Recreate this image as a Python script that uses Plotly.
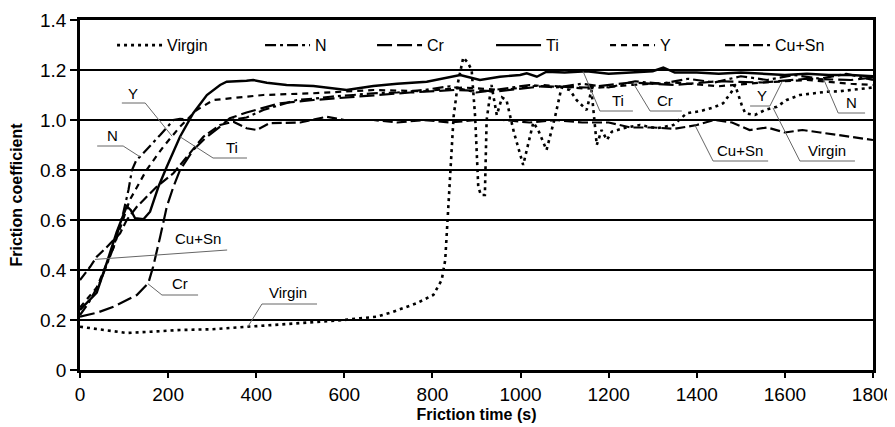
import numpy as np
import plotly.graph_objects as go

# ---------------- data ----------------
virgin_t = [0, 50, 106, 160, 227, 300, 378, 450, 530, 600, 636, 673, 711, 764, 802,
            821, 829, 834, 840, 848, 858, 870, 880, 889, 897, 904, 910, 919, 923, 934,
            946, 958, 968, 985, 1006, 1020, 1029, 1040, 1059, 1078, 1093, 1112, 1127, 1150, 1161,
            1173, 1184, 1196, 1207, 1233, 1271, 1309, 1347, 1377, 1407, 1438, 1460, 1479, 1487, 1502,
            1510, 1532, 1555, 1582, 1604, 1634, 1665, 1695, 1725, 1755, 1786, 1800]
virgin_f = [0.173, 0.16, 0.148, 0.153, 0.16, 0.163, 0.173, 0.18, 0.193, 0.2, 0.207, 0.213, 0.233, 0.267, 0.30,
            0.36, 0.44, 0.587, 0.733, 1.013, 1.15, 1.25, 1.23, 1.2, 1.01, 0.733, 0.70, 0.70, 1.0, 1.14,
            1.02, 1.09, 1.08, 0.95, 0.82, 0.92, 0.99, 0.96, 0.88, 1.01, 1.13, 1.12, 1.08, 1.04, 1.12,
            0.9, 0.96, 0.92, 0.953, 0.967, 0.98, 0.967, 0.98, 1.027, 1.035, 1.05, 1.067, 1.113, 1.14, 1.06,
            1.027, 1.02, 1.04, 1.053, 1.08, 1.1, 1.107, 1.113, 1.115, 1.12, 1.127, 1.13]

n_t = [0, 20, 45, 76, 98, 110, 118, 128, 136, 151, 182, 212, 227, 260, 300,
       340, 378, 416, 454, 492, 530, 568, 620, 666, 720, 780, 840, 900, 960, 1020,
       1080, 1140, 1200, 1260, 1320, 1380, 1440, 1500, 1560, 1620, 1680, 1740, 1800]
n_f = [0.22, 0.27, 0.35, 0.49, 0.627, 0.72, 0.8, 0.84, 0.853, 0.88, 0.94, 1.0, 1.005, 1.0, 1.0,
       1.0, 1.01, 1.04, 1.06, 1.08, 1.085, 1.093, 1.1, 1.107, 1.11, 1.12, 1.135, 1.11, 1.125, 1.14,
       1.13, 1.145, 1.13, 1.155, 1.145, 1.165, 1.15, 1.175, 1.16, 1.18, 1.165, 1.185, 1.16]

cr_t = [0, 40, 76, 129, 155, 166, 182, 197, 212, 227, 257, 288, 318, 340, 378,
        454, 530, 600, 666, 750, 850, 950, 1050, 1150, 1250, 1350, 1450, 1550, 1650, 1750, 1800]
cr_f = [0.213, 0.23, 0.253, 0.30, 0.347, 0.413, 0.533, 0.653, 0.733, 0.8, 0.88, 0.933, 0.973, 1.007, 1.03,
        1.067, 1.08, 1.09, 1.1, 1.11, 1.12, 1.115, 1.135, 1.13, 1.15, 1.14, 1.155, 1.15, 1.165, 1.16, 1.17]

ti_t = [0, 38, 61, 83, 106, 115, 125, 144, 159, 178, 197, 227, 257, 288, 318,
        333, 378, 393, 424, 469, 530, 605, 666, 720, 787, 863, 908, 953, 999, 1014,
        1037, 1059, 1100, 1150, 1200, 1250, 1300, 1324, 1350, 1400, 1450, 1500, 1550, 1600, 1650,
        1700, 1750, 1800]
ti_f = [0.24, 0.31, 0.43, 0.55, 0.655, 0.64, 0.607, 0.603, 0.633, 0.733, 0.813, 0.933, 1.027, 1.1, 1.14,
        1.153, 1.157, 1.16, 1.149, 1.14, 1.136, 1.12, 1.136, 1.145, 1.153, 1.18, 1.16, 1.173, 1.18, 1.187,
        1.173, 1.193, 1.19, 1.195, 1.185, 1.19, 1.195, 1.21, 1.19, 1.19, 1.185, 1.19, 1.185, 1.18, 1.185,
        1.18, 1.18, 1.175]

y_t = [0, 38, 76, 113, 151, 189, 227, 265, 303, 341, 416, 530, 666, 780, 870,
       960, 1050, 1150, 1250, 1350, 1450, 1550, 1650, 1750, 1800]
y_f = [0.25, 0.33, 0.49, 0.68, 0.8, 0.893, 0.973, 1.04, 1.08, 1.087, 1.1, 1.107, 1.12, 1.115, 1.13,
       1.12, 1.14, 1.125, 1.14, 1.15, 1.135, 1.15, 1.16, 1.145, 1.14]

cusn_t = [0, 23, 38, 60, 91, 106, 129, 150, 174, 212, 242, 280, 318, 348, 378,
          401, 430, 500, 560, 600, 666, 720, 780, 840, 900, 960, 1020, 1080, 1140, 1200,
          1250, 1300, 1350, 1400, 1440, 1480, 1520, 1560, 1600, 1640, 1680, 1720, 1760, 1800]
cusn_f = [0.36, 0.413, 0.453, 0.49, 0.547, 0.6, 0.653, 0.69, 0.733, 0.787, 0.853, 0.933, 0.98, 0.993, 0.967,
          0.96, 0.987, 0.99, 1.013, 1.0, 1.0, 0.99, 1.0, 0.99, 1.0, 1.0, 0.99, 1.0, 0.99, 0.99,
          0.97, 0.97, 0.965, 0.98, 1.0, 0.99, 0.96, 0.97, 0.95, 0.96, 0.95, 0.94, 0.93, 0.92]

x_ticks = [0, 200, 400, 600, 800, 1000, 1200, 1400, 1600, 1800]
y_ticks = [0, 0.2, 0.4, 0.6, 0.8, 1.0, 1.2, 1.4]
y_tick_text = ["0", "0.2", "0.4", "0.6", "0.8", "1.0", "1.2", "1.4"]

# in-plot labels: text, series pointed at, time on the curve, text position, underline
label_text = ["Y", "N", "Ti", "Cu+Sn", "Cr", "Virgin", "Ti", "Cr", "Y", "N", "Cu+Sn", "Virgin"]
label_target_t = [209, 136, 227, 34, 154, 381, 1142, 1255, 1594, 1687, 1396, 1573]
label_text_t = [120, 73, 345, 268, 227, 472, 1221, 1328, 1548, 1752, 1498, 1696]
label_text_f = [1.108, 0.94, 0.892, 0.528, 0.348, 0.312, 1.08, 1.08, 1.1, 1.072, 0.88, 0.88]
label_u0 = [95, 39, 302, 334, 186, 413, 1180, 1294, 1521, 1721, 1437, 1634]
label_u1 = [148, 98, 379, 334, 268, 538, 1255, 1366, 1566, 1782, 1562, 1759]
label_uf = [1.068, 0.896, 0.848, 0.48, 0.30, 0.264, 1.036, 1.036, 1.056, 1.028, 0.836, 0.836]
label_from = [148, 98, 302, 334, 186, 413, 1180, 1294, 1566, 1721, 1437, 1634]

# ---------------- styling ----------------
FONT = "Liberation Sans, Arial, sans-serif"
series = {
    "Virgin": (virgin_t, virgin_f, dict(dash="3px,4px", width=2.6), 88),
    "N": (n_t, n_f, dict(dash="11px,4px,3px,4px", width=2.2), 52),
    "Cr": (cr_t, cr_f, dict(dash="15px,5px", width=2.2), 59),
    "Ti": (ti_t, ti_f, dict(dash="solid", width=2.4), 54),
    "Y": (y_t, y_f, dict(dash="6px,5px", width=2.2), 55),
    "Cu+Sn": (cusn_t, cusn_f, dict(dash="10px,4px", width=2.2), 70),
}

fig = go.Figure()
for name, (tt, ff, ln, lw) in series.items():
    fig.add_trace(go.Scatter(x=tt, y=ff, mode="lines", name=name,
                             line=dict(color="black", **ln), legendwidth=lw))

shapes = []
annotations = []
for i, txt in enumerate(label_text):
    tt, ff, _, _ = series[txt]
    target_f = float(np.interp(label_target_t[i], tt, ff))
    shapes.append(dict(type="line", xref="x", yref="y", x0=label_u0[i], x1=label_u1[i],
                       y0=label_uf[i], y1=label_uf[i], line=dict(color="#666", width=1)))
    shapes.append(dict(type="line", xref="x", yref="y", x0=label_from[i], y0=label_uf[i],
                       x1=label_target_t[i], y1=target_f, line=dict(color="#666", width=1)))
    annotations.append(dict(x=label_text_t[i], y=label_text_f[i], xref="x", yref="y", text=txt,
                            showarrow=False, font=dict(size=15, color="black", family=FONT)))

# the page body adds an 8px offset, so the figure is sized to the visible area
fig.update_layout(
    width=887, height=419,
    margin=dict(l=72, r=22, t=12, b=57, autoexpand=False),
    paper_bgcolor="white", plot_bgcolor="white",
    font=dict(family=FONT, color="black", size=16),
    shapes=shapes, annotations=annotations,
    showlegend=True,
    legend=dict(orientation="h", x=0.0404, y=0.928, xanchor="left", yanchor="middle",
                bgcolor="rgba(0,0,0,0)", itemwidth=45, font=dict(size=16, family=FONT),
                traceorder="normal"),
)
fig.update_xaxes(range=[0, 1800], tickvals=x_ticks, ticks="outside", ticklen=5, tickwidth=1.5,
                 tickcolor="black", showline=True, linecolor="black", linewidth=2.5, mirror=True,
                 showgrid=False, zeroline=False, tickfont=dict(size=19), automargin=False,
                 title=dict(text="<b>Friction time (s)</b>", font=dict(size=16), standoff=6))
fig.update_yaxes(range=[0, 1.4], tickvals=y_ticks, ticktext=y_tick_text, ticks="outside", ticklen=7,
                 tickwidth=1.5, tickcolor="black", showline=True, linecolor="black", linewidth=2.5,
                 mirror=True, showgrid=True, gridcolor="black", gridwidth=1.6, zeroline=False,
                 tickfont=dict(size=19), automargin=False,
                 title=dict(text="<b>Friction coefficient</b>", font=dict(size=16), standoff=14))

fig.write_html("out.html")
